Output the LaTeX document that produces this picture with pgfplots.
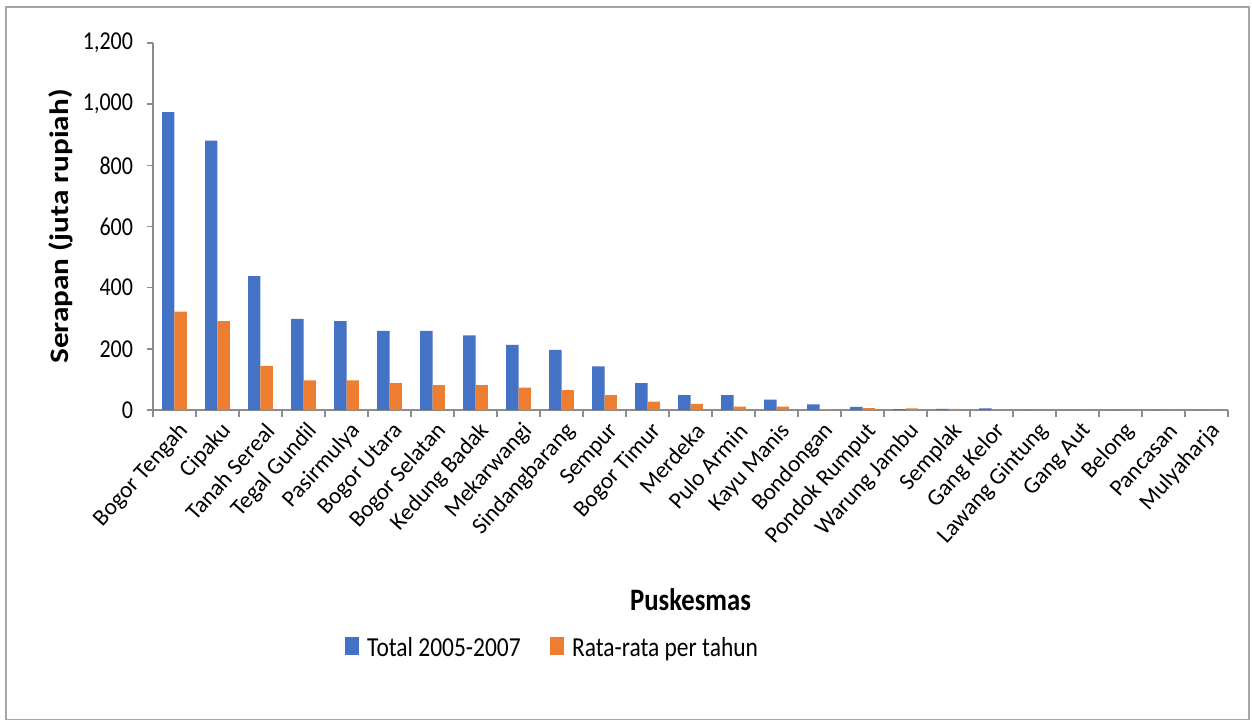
\documentclass[border=0pt]{standalone}
\usepackage{graphicx}
\usepackage{fontspec}
\setmainfont{Carlito}
\usepackage{pgfplots}
\pgfplotsset{compat=1.18}
\definecolor{cblue}{HTML}{4472C4}
\definecolor{corange}{HTML}{ED7D31}
\definecolor{axgray}{HTML}{8C8C8C}
\definecolor{framegray}{HTML}{A6A6A6}
\newcommand{\vs}[1]{\scalebox{1}[1.17]{#1}}
\begin{document}
\begin{tikzpicture}
\path[use as bounding box] (-114.75pt,-235.5pt) rectangle (824.25pt,307.5pt);
\draw[framegray, line width=0.9pt] (-110.25pt,-232pt) rectangle (822pt,302.25pt);
\begin{axis}[
  at={(0,0)}, anchor=south west,
  scale only axis,
  width=806.25pt, height=275.25pt,
  ybar=0pt, bar width=9.3pt,
  xmin=-0.5, xmax=24.5,
  ymin=0, ymax=1200,
  ytick={0,200,...,1200},
  xtick={0,...,24},
  minor xtick={-0.5,0.5,...,24.5},
  xticklabels={Bogor Tengah,Cipaku,Tanah Sereal,Tegal Gundil,Pasirmulya,Bogor Utara,Bogor Selatan,Kedung Badak,Mekarwangi,Sindangbarang,Sempur,Bogor Timur,Merdeka,Pulo Armin,Kayu Manis,Bondongan,Pondok Rumput,Warung Jambu,Semplak,Gang Kelor,Lawang Gintung,Gang Aut,Belong,Pancasan,Mulyaharja},
  axis x line*=bottom, axis y line*=left,
  axis line style={axgray, line width=1.4pt, -},
  tick align=outside,
  major x tick style={draw=none},
  minor x tick style={axgray, line width=1.2pt},
  minor tick length=5.5pt,
  major tick length=4.5pt,
  y tick style={axgray, line width=1.2pt},
  /pgf/number format/assume math mode=true,
  /pgf/number format/1000 sep={,},
  yticklabel={\vs{\pgfmathprintnumber{\tick}}},
  yticklabel style={font=\fontsize{16.5}{18}\selectfont, xshift=-7pt},
  xticklabel style={font=\fontsize{17.5}{19}\selectfont, rotate=48, anchor=east, xshift=2pt, yshift=-11pt},
  xlabel={\vs{\textbf{Puskesmas}}},
  xlabel style={font=\fontsize{20}{22}\selectfont, at={(axis description cs:0.5,-0.518)}, anchor=center},
  ylabel={\scalebox{1.17}[1]{\textbf{Serapan (juta rupiah)}}},
  ylabel style={font=\fontsize{20}{22}\selectfont, at={(axis description cs:-0.0856,0.5)}, anchor=center},
  legend style={draw=none, at={(axis description cs:0.372,-0.6485)}, anchor=center,
    legend columns=2, font=\fontsize{17.6}{20}\selectfont,
    /tikz/every odd column/.append style={column sep=4pt},
    /tikz/every even column/.append style={column sep=20pt}},
  legend image code/.code={\fill[#1] (0pt,-5pt) rectangle (10.5pt,8.5pt);},
  legend cell align=left,
]
\addplot[fill=cblue, draw=none] coordinates {
(0,974) (1,881) (2,438) (3,298) (4,291) (5,259) (6,259) (7,244) (8,213) (9,197)
(10,143) (11,88) (12,49) (13,49) (14,34) (15,18) (16,10) (17,3) (18,4) (19,5)
(20,0) (21,0) (22,0) (23,0) (24,0)};
\addlegendentry{\vs{Total 2005-2007}}
\addplot[fill=corange, draw=none] coordinates {
(0,322) (1,291) (2,144) (3,97) (4,97) (5,88) (6,81) (7,81) (8,73) (9,65)
(10,49) (11,27) (12,20) (13,11) (14,11) (15,3) (16,6) (17,5) (18,4) (19,1)
(20,0) (21,0) (22,0) (23,0) (24,0)};
\addlegendentry{\vs{Rata-rata per tahun}}
\end{axis}
\end{tikzpicture}
\end{document}
